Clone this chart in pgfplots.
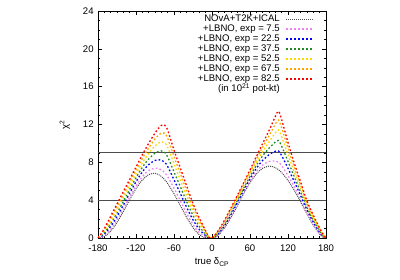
\documentclass[border=0pt]{standalone}
\usepackage{fontspec}
\setmainfont{Liberation Sans}
\usepackage{pgfplots}
\usepackage{pgfplotstable}
\pgfplotsset{compat=1.18}
\definecolor{cpink}{RGB}{238,130,238}
\definecolor{cblue}{RGB}{0,0,255}
\definecolor{cgreen}{RGB}{34,139,34}
\definecolor{cyellow}{RGB}{255,215,0}
\definecolor{corange}{RGB}{255,165,0}
\definecolor{cred}{RGB}{255,0,0}
\pgfplotstableread{
x b p bl g y o r
-180 0 0 0 0 0 0 0
-175 0.02 0.08 0.16 0.24 0.31 0.39 0.45
-170 0.145 0.26 0.42 0.57 0.73 0.87 1.0
-160 0.714 0.92 1.22 1.51 1.79 2.06 2.3
-150 1.64 1.90 2.27 2.62 2.97 3.31 3.6
-140 2.80 3.07 3.47 3.85 4.23 4.59 4.9
-130 4.05 4.33 4.74 5.13 5.51 5.88 6.2
-120 5.21 5.51 5.94 6.36 6.77 7.16 7.5
-110 6.14 6.49 6.99 7.47 7.95 8.40 8.8
-100 6.70 7.13 7.76 8.35 8.94 9.51 10.0
-90 6.84 7.39 8.20 8.97 9.74 10.46 11.1
-85 6.73 7.36 8.27 9.14 10.01 10.83 11.55
-80 6.51 7.21 8.24 9.21 10.18 11.09 11.9
-75 6.18 6.93 8.03 9.07 10.10 11.09 11.95
-70 5.76 6.49 7.57 8.58 9.60 10.55 11.4
-60 4.68 5.28 6.16 6.99 7.82 8.61 9.3
-50 3.43 3.95 4.70 5.42 6.13 6.81 7.4
-40 2.18 2.61 3.24 3.84 4.44 5.00 5.5
-30 1.10 1.43 1.92 2.38 2.83 3.27 3.65
-20 0.34 0.57 0.90 1.22 1.54 1.84 2.1
-10 0.01 0.11 0.25 0.38 0.51 0.64 0.75
-5 0 0.01 0.03 0.05 0.07 0.09 0.1
0 0 0 0 0 0 0 0
5 0.07 0.11 0.16 0.21 0.26 0.31 0.35
10 0.30 0.37 0.46 0.55 0.64 0.73 0.8
20 1.08 1.19 1.34 1.49 1.64 1.78 1.9
30 2.16 2.30 2.49 2.68 2.87 3.04 3.2
40 3.40 3.54 3.75 3.95 4.15 4.34 4.5
50 4.68 4.83 5.05 5.27 5.48 5.68 5.85
60 5.84 6.02 6.28 6.52 6.77 7.00 7.2
70 6.77 7.01 7.36 7.69 8.01 8.33 8.6
80 7.37 7.71 8.21 8.69 9.16 9.61 10.0
90 7.60 8.09 8.80 9.48 10.15 10.79 11.35
95 7.56 8.15 9.01 9.83 10.65 11.42 12.1
100 7.44 8.14 9.17 10.15 11.12 12.04 12.85
105 7.22 8.02 9.20 10.31 11.42 12.47 13.4
110 6.92 7.65 8.71 9.71 10.71 11.66 12.5
120 6.09 6.61 7.37 8.10 8.82 9.50 10.1
130 5.03 5.40 5.95 6.47 6.98 7.47 7.9
140 3.81 4.08 4.48 4.86 5.23 5.59 5.9
150 2.54 2.72 2.98 3.22 3.47 3.70 3.9
160 1.36 1.50 1.69 1.88 2.07 2.24 2.4
170 0.41 0.49 0.62 0.73 0.85 0.95 1.05
175 0.10 0.15 0.21 0.28 0.34 0.40 0.45
180 0 0 0 0 0 0 0
}\datatab
\tikzset{
  sblack/.style={draw=black!70, line width=1.0pt, dash pattern=on 1bp off 1bp},
  sdot/.style={draw=#1, line width=1.3pt, dash pattern=on 1.7bp off 2.2bp},
  ldot/.style={draw=#1, line width=1.5pt, dash pattern=on 1.8bp off 2.2bp},
}
\begin{document}
\fontsize{9.6}{11}\selectfont
\begin{tikzpicture}
\begin{axis}[
  at={(0,0)}, anchor=south west,
  scale only axis, width=228bp, height=227bp,
  xmin=-180, xmax=180, ymin=0, ymax=24,
  xtick={-180,-120,...,180}, ytick={0,4,...,24},
  minor x tick num=5, minor y tick num=3,
  tick align=inside, major tick length=4bp, minor tick length=2bp,
  tick style={black, line width=0.5pt},
  axis line style={line width=0.7pt},
  /pgf/number format/assume math mode=true,
  ticklabel style={font=\fontsize{9.6}{11}\selectfont},
  xticklabel style={yshift=-3bp},
  yticklabel style={xshift=-1bp},
  xlabel={true δ\textsubscript{CP}},
  ylabel={χ\textsuperscript{2}},
  xlabel style={at={(axis description cs:0.5,-0.105)}, anchor=center, font=\fontsize{9.6}{11}\selectfont},
  ylabel style={at={(axis description cs:-0.145,0.5)}, anchor=center, font=\fontsize{9.6}{11}\selectfont},
  legend cell align=right,
  legend plot pos=right,
  legend style={draw=none, fill=none, at={(rel axis cs:1,1)}, anchor=north east,
    xshift=-12bp, yshift=-3bp, inner sep=0pt, row sep=0pt, column sep=5bp,
    font=\fontsize{9.6}{10}\selectfont,
    nodes={inner sep=0.5bp, text height=7bp, text depth=2bp}},
  legend image code/.code={\path[#1] (0bp,0bp) -- (27bp,0bp);},
  every axis plot/.append style={smooth},
]
\addplot[gray!60!black, line width=1.2pt, forget plot, sharp plot] coordinates {(-180,4) (180,4)};
\addplot[gray!60!black, line width=1.2pt, forget plot, sharp plot] coordinates {(-180,9) (180,9)};
\addplot[sblack, forget plot] table[x=x,y=b] {\datatab};
\addplot[sdot=cpink, forget plot] table[x=x,y=p] {\datatab};
\addplot[sdot=cblue, forget plot] table[x=x,y=bl] {\datatab};
\addplot[sdot=cgreen, forget plot] table[x=x,y=g] {\datatab};
\addplot[sdot=cyellow, forget plot] table[x=x,y=y] {\datatab};
\addplot[sdot=corange, forget plot] table[x=x,y=o] {\datatab};
\addplot[sdot=cred, forget plot] table[x=x,y=r] {\datatab};
\addlegendimage{sblack}
\addlegendentry{NOvA+T2K+ICAL}
\addlegendimage{ldot=cpink}
\addlegendentry{+LBNO, exp = 7.5}
\addlegendimage{ldot=cblue}
\addlegendentry{+LBNO, exp = 22.5}
\addlegendimage{ldot=cgreen}
\addlegendentry{+LBNO, exp = 37.5}
\addlegendimage{ldot=cyellow}
\addlegendentry{+LBNO, exp = 52.5}
\addlegendimage{ldot=corange}
\addlegendentry{+LBNO, exp = 67.5}
\addlegendimage{ldot=cred}
\addlegendentry{+LBNO, exp = 82.5}
\addlegendimage{empty legend}
\addlegendentry{(in 10\textsuperscript{21} pot-kt)\hspace{6bp}}
\end{axis}
\pgfresetboundingbox
\path[use as bounding box] (-98bp,-41.3bp) rectangle (302bp,238bp);
\end{tikzpicture}
\end{document}
